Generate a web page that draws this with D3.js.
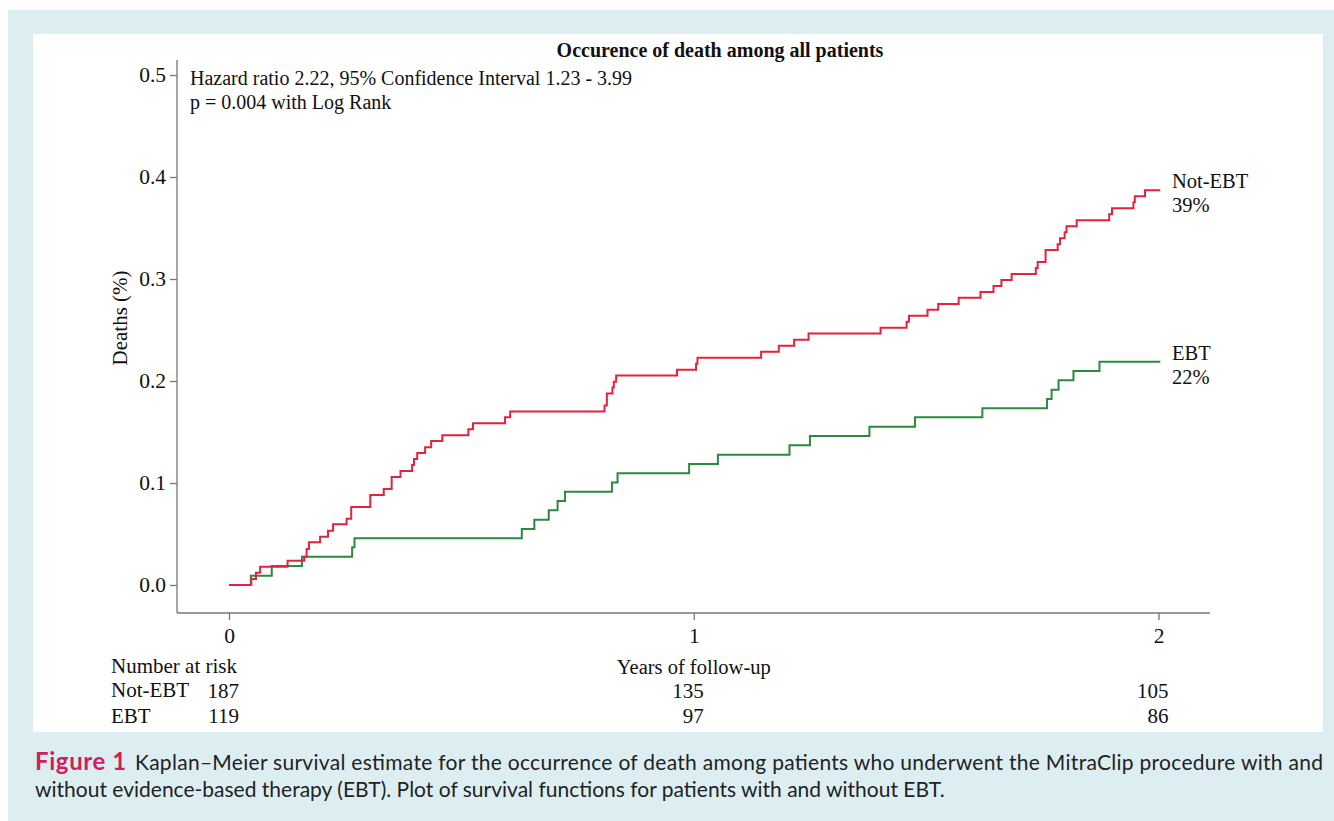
<!DOCTYPE html>
<html><head><meta charset="utf-8">
<script src="https://cdn.jsdelivr.net/npm/d3@7"></script>
<style>body{margin:0;background:#fff}svg{display:block}</style>
</head><body>
<svg id="c" width="1334" height="821"></svg>
<script>
// ---- data ----
const notEbtTimes = [0.048,0.058,0.067,0.126,0.162,0.167,0.172,0.196,0.213,0.224,0.253,0.263,0.304,0.333,0.350,0.369,0.394,0.398,0.405,0.422,0.435,0.459,0.515,0.525,0.594,0.605,0.808,0.813,0.825,0.828,0.833,0.964,1.005,1.008,1.145,1.183,1.216,1.247,1.402,1.458,1.463,1.503,1.526,1.570,1.617,1.645,1.662,1.684,1.736,1.740,1.757,1.783,1.788,1.798,1.802,1.824,1.894,1.900,1.946,1.949,1.971];
const notEbtValues = [0.0059,0.0121,0.0179,0.0238,0.0277,0.0353,0.0419,0.0474,0.0532,0.0595,0.0650,0.0765,0.0882,0.0941,0.1059,0.1118,0.1176,0.1235,0.1294,0.1350,0.1412,0.1468,0.1526,0.1585,0.1644,0.1701,0.1760,0.1877,0.1936,0.1993,0.2054,0.2111,0.2170,0.2228,0.2287,0.2346,0.2404,0.2465,0.2523,0.2581,0.2640,0.2699,0.2755,0.2817,0.2873,0.2931,0.2990,0.3049,0.3108,0.3167,0.3284,0.3340,0.3399,0.3458,0.3517,0.3575,0.3634,0.3693,0.3752,0.3811,0.3870];
const ebtTimes = [0.047,0.092,0.157,0.265,0.270,0.630,0.657,0.688,0.707,0.723,0.824,0.836,0.990,1.052,1.206,1.250,1.378,1.476,1.621,1.760,1.770,1.785,1.817,1.873];
const ebtValues = [0.0091,0.0186,0.0277,0.0370,0.0458,0.0549,0.0640,0.0732,0.0824,0.0914,0.1005,0.1095,0.1186,0.1277,0.1370,0.1461,0.1551,0.1644,0.1732,0.1824,0.1915,0.2007,0.2098,0.2189];
const followUpEnd = 2.004;
const yTicks = [0, 0.1, 0.2, 0.3, 0.4, 0.5];
const xTicks = [0, 1, 2];
const groupNames = ["Not-EBT", "EBT"];
const groupEndLabels = ["39%", "22%"];
const riskNotEbt = [187, 135, 105];
const riskEbt = [119, 97, 86];

// ---- layout ----
const svg = d3.select("#c");
const serif = "'Liberation Serif','Times New Roman',serif";
const sans = "Lato,'Open Sans',sans-serif";
const RED = "#e2233d", GREEN = "#2a8a3e";

svg.append("rect").attr("x",8).attr("y",10).attr("width",1326).attr("height",811).attr("fill","#ddeef3");
svg.append("rect").attr("x",33).attr("y",34).attr("width",1290).attr("height",698).attr("fill","#fff");

const x = d3.scaleLinear().domain([0,2]).range([229,1158.5]);
const y = d3.scaleLinear().domain([0,0.5]).range([585,75]);
const axX = 177, axY = 613;

svg.append("line").attr("x1",axX).attr("x2",axX).attr("y1",60).attr("y2",axY).attr("stroke","#777").attr("stroke-width",1.3);
svg.append("line").attr("x1",axX).attr("x2",1210).attr("y1",axY).attr("y2",axY).attr("stroke","#777").attr("stroke-width",1.3);

const yAxis = svg.append("g").attr("transform",`translate(${axX},0)`)
  .call(d3.axisLeft(y).tickValues(yTicks).tickSize(7).tickPadding(4).tickFormat(d3.format(".1f")));
const xAxis = svg.append("g").attr("transform",`translate(0,${axY})`)
  .call(d3.axisBottom(x).tickValues(xTicks).tickSize(7).tickPadding(8).tickFormat(d3.format("d")));
[yAxis,xAxis].forEach(g=>{
  g.select(".domain").remove();
  g.selectAll(".tick line").attr("stroke","#777").attr("stroke-width",1.3);
  g.selectAll(".tick text").attr("fill","#111").style("font-family",serif).style("font-size","21.5px");
});

const line = d3.line().x(d=>x(d[0])).y(d=>y(d[1])).curve(d3.curveStepAfter);
function pts(ts, vs){ const p=[[0,0]]; ts.forEach((t,i)=>p.push([t,vs[i]])); p.push([followUpEnd, vs[vs.length-1]]); return p; }
svg.append("path").attr("d",line(pts(ebtTimes,ebtValues))).attr("fill","none").attr("stroke",GREEN).attr("stroke-width",2);
svg.append("path").attr("d",line(pts(notEbtTimes,notEbtValues))).attr("fill","none").attr("stroke",RED).attr("stroke-width",2);

const T = (txt, xx, yy, opts={}) => svg.append("text").attr("x",xx).attr("y",yy).text(txt)
  .style("font-family",opts.family||serif).style("font-size",(opts.size||21)+"px")
  .style("font-weight",opts.weight||"normal").attr("fill",opts.fill||"#111")
  .attr("text-anchor",opts.anchor||"start");

T("Occurence of death among all patients", 720, 57, {anchor:"middle", weight:"bold", size:20});
T("Hazard ratio 2.22, 95% Confidence Interval 1.23 - 3.99", 190, 85, {size:20});
T("p = 0.004 with Log Rank", 190, 109, {size:20});
svg.append("text").attr("transform","translate(127,318) rotate(-90)").attr("text-anchor","middle")
  .style("font-family",serif).style("font-size","21px").attr("fill","#111").text("Deaths (%)");

T(groupNames[0], 1172, 188, {size:20.5});
T(groupEndLabels[0], 1172, 212, {size:20.5});
T(groupNames[1], 1172, 360, {size:20.5});
T(groupEndLabels[1], 1172, 384, {size:20.5});

T("Number at risk", 111, 673);
T("Years of follow-up", x(1), 674, {anchor:"middle", size:20.5});
T(groupNames[0], 111, 697);
T(groupNames[1], 111, 723);
riskNotEbt.forEach((n,i)=>T(String(n), x(xTicks[i])+10, 698, {anchor:"end"}));
riskEbt.forEach((n,i)=>T(String(n), x(xTicks[i])+10, 723, {anchor:"end"}));

// caption
const cap1 = svg.append("text").attr("x",35).attr("y",770).style("font-family",sans).style("font-size","21px").attr("fill","#222");
cap1.append("tspan").text("Figure 1").attr("fill","#d21f5a").style("font-weight","bold").style("font-size","24px").style("letter-spacing","0.6px");
cap1.append("tspan").attr("x",135).attr("textLength",1188).attr("lengthAdjust","spacing")
  .text("Kaplan\u2013Meier survival estimate for the occurrence of death among patients who underwent the MitraClip procedure with and");
svg.append("text").attr("x",35).attr("y",797).style("font-family",sans).style("font-size","21px").attr("fill","#222")
  .text("without evidence-based therapy (EBT). Plot of survival functions for patients with and without EBT.");
</script>
</body></html>
